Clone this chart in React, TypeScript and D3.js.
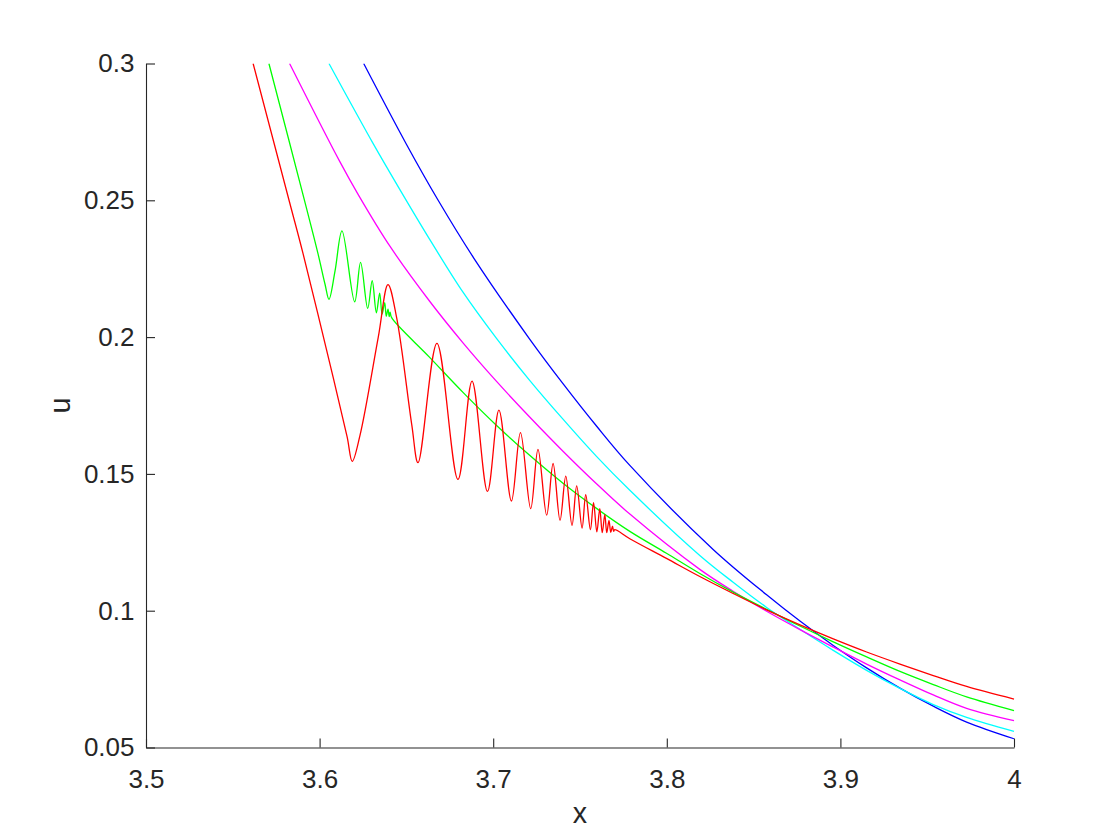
import React, { useEffect, useRef } from "react";
import * as d3 from "d3";

const W = 1120;
const H = 840;
const X0 = 146;
const X1 = 1014;
const Y0 = 747.5;
const Y1 = 63.5;

const xTicks = [3.5, 3.6, 3.7, 3.8, 3.9, 4];
const xTickLabels = ["3.5", "3.6", "3.7", "3.8", "3.9", "4"];
const yTicks = [0.05, 0.1, 0.15, 0.2, 0.25, 0.3];
const yTickLabels = ["0.05", "0.1", "0.15", "0.2", "0.25", "0.3"];
const xLabel = "x";
const yLabel = "u";

const blueX = [3.6254, 3.65, 3.6682, 3.6888, 3.721, 3.7402, 3.7595, 3.7787, 3.8267, 3.8575, 3.8767, 3.8959, 3.9151, 3.9343, 3.9535, 3.9727, 4.0];
const blueU = [0.3, 0.2705, 0.2501, 0.2289, 0.1993, 0.183, 0.1675, 0.1531, 0.1224, 0.1058, 0.0962, 0.0873, 0.0791, 0.0717, 0.0651, 0.0593, 0.0532];

const cyanX = [3.6054, 3.6307, 3.6471, 3.6644, 3.6826, 3.7018, 3.721, 3.7402, 3.7595, 3.7787, 3.819, 3.8382, 3.8575, 3.8767, 3.8959, 3.9151, 3.9343, 3.9535, 3.9727, 4.0];
const cyanU = [0.3, 0.2709, 0.253, 0.2347, 0.2164, 0.1996, 0.1842, 0.17, 0.1564, 0.144, 0.1202, 0.1104, 0.1012, 0.0932, 0.0855, 0.0782, 0.0716, 0.0657, 0.061, 0.0559];

const magentaX = [3.5827, 3.6115, 3.6225, 3.6403, 3.6634, 3.6826, 3.7018, 3.721, 3.7402, 3.7595, 3.7787, 3.819, 3.8382, 3.8575, 3.8767, 3.8959, 3.9151, 3.9343, 3.9535, 3.9727, 4.0];
const magentaU = [0.3, 0.2643, 0.2518, 0.2334, 0.2131, 0.1979, 0.1839, 0.1708, 0.1583, 0.1464, 0.1353, 0.1151, 0.1071, 0.0998, 0.0931, 0.0867, 0.0805, 0.0747, 0.0692, 0.0643, 0.0598];

const greenX = [3.5708, 3.5914, 3.599, 3.6031, 3.6054, 3.6089, 3.6129, 3.6202, 3.6236, 3.6277, 3.6303, 3.6327, 3.6346, 3.636, 3.6375, 3.6384, 3.6394, 3.6401, 3.6406, 3.6415,
  3.6634, 3.6826, 3.7018, 3.721, 3.7402, 3.7595, 3.7787, 3.7998, 3.819, 3.8382, 3.8575, 3.8767, 3.8959, 3.9151, 3.9343, 3.9535, 3.9727, 4.0];
const greenU = [0.3, 0.2497, 0.2307, 0.2194, 0.2138, 0.2242, 0.2388, 0.2129, 0.2273, 0.2105, 0.2206, 0.2089, 0.2161, 0.2084, 0.2126, 0.2076, 0.2102, 0.2075, 0.2091, 0.2071,
  0.1926, 0.1798, 0.1678, 0.1568, 0.1466, 0.1374, 0.129, 0.121, 0.1136, 0.1068, 0.1005, 0.0944, 0.0886, 0.0831, 0.0778, 0.073, 0.0685, 0.0635];

const redX = [3.5617, 3.5827, 3.5904, 3.6039, 3.6158, 3.6188, 3.6233, 3.6338,
  3.6394, 3.6444, 3.6531, 3.6567, 3.6676, 3.6797, 3.6878, 3.6967, 3.7033, 3.7105, 3.7157, 3.7216, 3.7258, 3.7308, 3.7345, 3.7385, 3.7418, 3.7454,
  3.7481, 3.7512, 3.7533, 3.756, 3.7578, 3.7597, 3.7614, 3.7628, 3.7643, 3.7654, 3.7667, 3.7677, 3.7687, 3.7694, 3.77,
  3.7787, 3.7998, 3.819, 3.8382, 3.8575, 3.8767, 3.8959, 3.9151, 3.9343, 3.9535, 3.9727, 4.0];
const redU = [0.3, 0.2493, 0.2307, 0.1956, 0.1637, 0.1546, 0.1642, 0.2,
  0.2192, 0.207, 0.1679, 0.1541, 0.1977, 0.148, 0.1839, 0.1436, 0.1733, 0.1401, 0.1651, 0.1373, 0.159, 0.1349, 0.1538, 0.133, 0.1492, 0.1312,
  0.1456, 0.1302, 0.1424, 0.1296, 0.1395, 0.1288, 0.1373, 0.1285, 0.1351, 0.1285, 0.133, 0.1286, 0.1309, 0.129, 0.1296,
  0.1263, 0.1191, 0.1125, 0.1063, 0.1003, 0.0948, 0.0897, 0.0849, 0.0805, 0.0763, 0.0723, 0.0677];

const seriesList = [
  { name: "blue", xs: blueX, us: blueU, color: "#0000ff" },
  { name: "cyan", xs: cyanX, us: cyanU, color: "#00ffff" },
  { name: "magenta", xs: magentaX, us: magentaU, color: "#ff00ff" },
  { name: "green", xs: greenX, us: greenU, color: "#00ff00" },
  { name: "red", xs: redX, us: redU, color: "#ff0000" },
];

const FONT = "'Liberation Sans', Arial, Helvetica, sans-serif";
const AXIS_COLOR = "#262626";

export default function App() {
  const ref = useRef<SVGSVGElement>(null);

  useEffect(() => {
    if (!ref.current) return;
    const svg = d3.select(ref.current);
    svg.selectAll("*").remove();

    const x = d3.scaleLinear().domain([3.5, 4]).range([X0, X1]);
    const y = d3.scaleLinear().domain([0.05, 0.3]).range([Y0, Y1]);

    svg
      .append("defs")
      .append("clipPath")
      .attr("id", "plotclip")
      .append("rect")
      .attr("x", X0)
      .attr("y", Y1)
      .attr("width", X1 - X0 + 1)
      .attr("height", Y0 - Y1);

    const line = d3
      .line<[number, number]>()
      .x((d) => x(d[0]))
      .y((d) => y(d[1]))
      .curve(d3.curveCatmullRom.alpha(0.5));

    const g = svg.append("g").attr("clip-path", "url(#plotclip)");
    seriesList.forEach((s) => {
      const pts: [number, number][] = s.xs.map((v, i) => [v, s.us[i]]);
      g.append("path")
        .attr("d", line(pts) || "")
        .attr("fill", "none")
        .attr("stroke", s.color)
        .attr("stroke-width", 1.3)
        .attr("stroke-linejoin", "round");
    });

    const xAxis = d3
      .axisBottom(x)
      .tickValues(xTicks)
      .tickFormat((_d, i) => xTickLabels[i])
      .tickSizeInner(-9)
      .tickSizeOuter(0)
      .tickPadding(22);
    const yAxis = d3
      .axisLeft(y)
      .tickValues(yTicks)
      .tickFormat((_d, i) => yTickLabels[i])
      .tickSizeInner(-9)
      .tickSizeOuter(0)
      .tickPadding(11.5);

    const gx = svg
      .append("g")
      .attr("transform", `translate(0,${Y0})`)
      .attr("color", AXIS_COLOR)
      .call(xAxis);
    const gy = svg
      .append("g")
      .attr("transform", `translate(${X0},0)`)
      .attr("color", AXIS_COLOR)
      .call(yAxis);

    [gx, gy].forEach((ax) => {
      ax.attr("font-family", FONT).attr("font-size", 26);
      ax.selectAll("path, line").attr("stroke-width", 1.1);
      ax.selectAll("text").attr("fill", AXIS_COLOR);
    });

    svg
      .append("text")
      .attr("x", (X0 + X1) / 2)
      .attr("y", 823)
      .attr("text-anchor", "middle")
      .attr("font-family", FONT)
      .attr("font-size", 28.6)
      .attr("fill", AXIS_COLOR)
      .text(xLabel);

    svg
      .append("text")
      .attr("transform", `translate(69.5,${(Y0 + Y1) / 2}) rotate(-90)`)
      .attr("text-anchor", "middle")
      .attr("font-family", FONT)
      .attr("font-size", 28.6)
      .attr("fill", AXIS_COLOR)
      .text(yLabel);
  }, []);

  return (
    <svg
      ref={ref}
      width={W}
      height={H}
      style={{ position: "absolute", left: 0, top: 0, background: "#ffffff" }}
    />
  );
}
